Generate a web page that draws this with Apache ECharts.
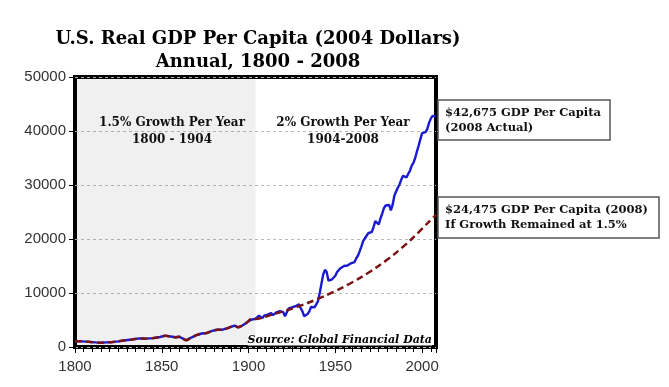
<!DOCTYPE html>
<html><head><meta charset="utf-8">
<script src="https://cdn.jsdelivr.net/npm/echarts@6/dist/echarts.min.js"></script>
<style>html,body{margin:0;padding:0;background:#fff}#c{width:669px;height:387px}</style>
</head><body><div id="c"></div>
<script>
// Actual real GDP per capita, sparse 1800-1898
const earlyYears  = [1800,1804,1808,1812,1815,1818,1821,1825,1829,1833,1837,1841,1845,1849,1852,1855,1858,1860,1862,1864,1867,1870,1873,1876,1879,1882,1885,1888,1890,1892,1894,1896,1898];
const earlyValues = [1050,1050, 950, 850, 800, 850, 900,1050,1250,1400,1600,1550,1650,1850,2100,1950,1800,1900,1600,1250,1750,2200,2500,2600,3000,3200,3200,3500,3750,3950,3650,3900,4300];
// Annual values 1900-2008
const modernStartYear = 1900;
const modernValues = [
  4800,5150,5100,5250,5200,5400,5800,5850,5350,5800,   // 1900-1909
  5900,6000,6200,6300,5900,5850,6400,6250,6650,6600,   // 1910-1919
  6450,5700,6400,7100,7200,7350,7600,7550,7600,7900,   // 1920-1929
  7200,6650,5700,5500,6100,6600,7400,7750,7350,7900,   // 1930-1939
  8500,10000,11700,13400,14300,13900,12300,12100,12500,12300, // 1940-1949
  13200,13900,14200,14600,14300,15000,15000,15100,14800,15500, // 1950-1959
  15600,15700,16400,16900,17700,18600,19600,19900,20600,21100, // 1960-1969
  20900,21300,22200,23300,23000,22700,23800,24700,25700,26200, // 1970-1979
  25900,26300,25300,26300,28000,28800,29500,30100,31000,31700, // 1980-1989
  31900,31400,32100,32600,33600,34100,35000,36200,37300,38500, // 1990-1999
  39600,39500,39800,40400,41500,42300,42800,43100,42675        // 2000-2008
];
// Hypothetical 1.5% growth path after 1904
const trendYears  = [1904,1914,1924,1934,1944,1954,1964,1974,1984,1994,2004,2008];
const trendValues = [5200,6050,7000,8150,9450,11000,12750,14800,17200,20000,23200,24475];
const xTickLabels = [1800,1850,1900,1950,2000];
const shadeStart = 1800, shadeEnd = 1904;

const modernYears = modernValues.map((v, i) => modernStartYear + i);
const actual = earlyYears.map((y, i) => [y, earlyValues[i]])
  .concat(modernYears.map((y, i) => [y, modernValues[i]]));
const trend = actual.filter(p => p[0] < 1904)
  .concat(trendYears.map((y, i) => [y, trendValues[i]]));

const serif = '"DejaVu Serif", "Liberation Serif", serif';
const sans = '"Liberation Sans", Arial, sans-serif';

const chart = echarts.init(document.getElementById('c'), null, {renderer: 'canvas'});
chart.setOption({
  animation: false,
  backgroundColor: '#fff',
  grid: {left: 75, right: 233, top: 77, bottom: 40, show: true, borderColor: '#000', borderWidth: 4, backgroundColor: 'transparent'},
  xAxis: {
    type: 'value', min: 1800, max: 2008, interval: 50,
    axisLine: {show: false},
    axisTick: {show: true, length: 6, lineStyle: {color: '#000', width: 1}},
    minorTick: {show: true, splitNumber: 10, length: 5, lineStyle: {color: '#000', width: 1}},
    splitLine: {show: false},
    axisLabel: {
      margin: 12, color: '#333', fontFamily: sans, fontSize: 15,
      showMaxLabel: false,
      formatter: v => xTickLabels.indexOf(v) >= 0 ? String(v) : ''
    }
  },
  yAxis: {
    type: 'value', min: 0, max: 50000, interval: 10000,
    axisLine: {show: false},
    axisTick: {show: true, length: 6, lineStyle: {color: '#000', width: 1}},
    splitLine: {show: true, lineStyle: {color: '#bbb', type: [3, 3], width: 1}},
    axisLabel: {margin: 9, color: '#333', fontFamily: sans, fontSize: 15, formatter: v => String(v)}
  },
  series: [
    {
      type: 'line', data: actual, showSymbol: false, smooth: false,
      lineStyle: {color: '#1a1ad0', width: 2.4},
      z: 2,
      markArea: {
        silent: true,
        itemStyle: {color: 'rgba(0,0,0,0.06)'},
        data: [[{xAxis: shadeStart}, {xAxis: shadeEnd}]]
      }
    },
    {
      type: 'line', data: trend, showSymbol: false, smooth: 0.3,
      lineStyle: {color: '#7a1414', width: 2.5, type: [7, 4]},
      z: 3
    }
  ],
  graphic: [
    {type: 'text', x: 258, y: 39, style: {text: 'U.S. Real GDP Per Capita (2004 Dollars)', font: 'bold 18px ' + serif, fill: '#000', align: 'center', verticalAlign: 'middle'}},
    {type: 'text', x: 258, y: 62, style: {text: 'Annual, 1800 - 2008', font: 'bold 18px ' + serif, fill: '#000', align: 'center', verticalAlign: 'middle'}},
    {type: 'text', x: 172, y: 123, z: 10, style: {text: '1.5% Growth Per Year', font: 'bold 12px ' + serif, fill: '#111', align: 'center', verticalAlign: 'middle'}},
    {type: 'text', x: 172, y: 140, z: 10, style: {text: '1800 - 1904', font: 'bold 12px ' + serif, fill: '#111', align: 'center', verticalAlign: 'middle'}},
    {type: 'text', x: 343, y: 123, z: 10, style: {text: '2% Growth Per Year', font: 'bold 12px ' + serif, fill: '#111', align: 'center', verticalAlign: 'middle'}},
    {type: 'text', x: 343, y: 140, z: 10, style: {text: '1904-2008', font: 'bold 12px ' + serif, fill: '#111', align: 'center', verticalAlign: 'middle'}},
    {type: 'text', x: 432, y: 340, z: 10, style: {text: 'Source: Global Financial Data', font: 'italic bold 11px ' + serif, fill: '#000', align: 'right', verticalAlign: 'middle', backgroundColor: '#fff'}},
    {type: 'rect', z: 20, shape: {x: 438, y: 100, width: 172, height: 40}, style: {fill: '#fff', stroke: '#555', lineWidth: 1.5}},
    {type: 'text', z: 21, x: 445, y: 113, style: {text: '$42,675 GDP Per Capita', font: 'bold 11.5px ' + serif, fill: '#111', align: 'left', verticalAlign: 'middle'}},
    {type: 'text', z: 21, x: 445, y: 128, style: {text: '(2008 Actual)', font: 'bold 11.5px ' + serif, fill: '#111', align: 'left', verticalAlign: 'middle'}},
    {type: 'rect', z: 20, shape: {x: 438, y: 197, width: 221, height: 41}, style: {fill: '#fff', stroke: '#555', lineWidth: 1.5}},
    {type: 'text', z: 21, x: 445, y: 210, style: {text: '$24,475 GDP Per Capita (2008)', font: 'bold 11.5px ' + serif, fill: '#111', align: 'left', verticalAlign: 'middle'}},
    {type: 'text', z: 21, x: 445, y: 225, style: {text: 'If Growth Remained at 1.5%', font: 'bold 11.5px ' + serif, fill: '#111', align: 'left', verticalAlign: 'middle'}}
  ]
});
</script></body></html>
